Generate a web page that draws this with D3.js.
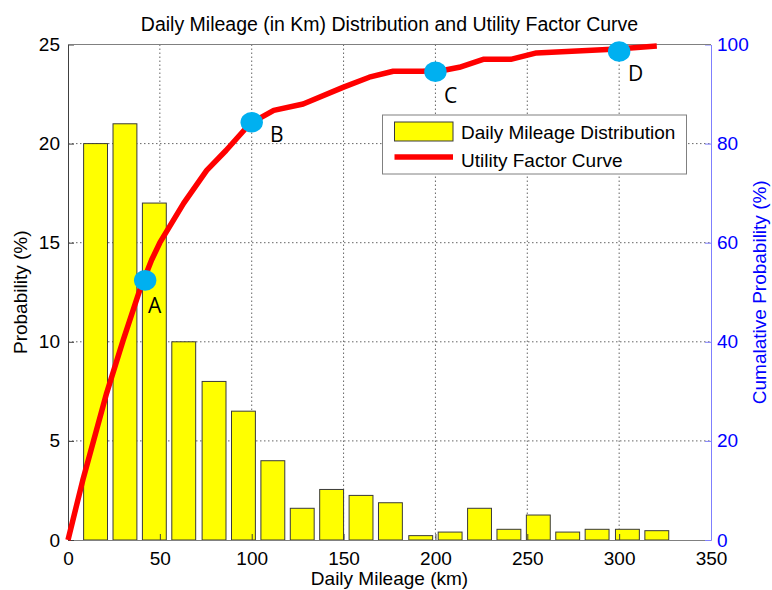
<!DOCTYPE html>
<html>
<head>
<meta charset="utf-8">
<script src="https://cdn.jsdelivr.net/npm/d3@7/dist/d3.min.js"></script>
<style>
  html, body { margin: 0; padding: 0; background: #ffffff; }
  svg { display: block; font-family: "Liberation Sans", Arial, Helvetica, sans-serif; }
</style>
</head>
<body>
<svg id="chart" width="772" height="590"></svg>
<script>
// Daily mileage histogram (bin centres in km, probability in %)
const binCenters = [15, 31, 47, 63, 79.5, 95.5, 111.5, 127.5, 143.5, 159.5, 175.5, 192, 208, 224, 240, 256, 272, 288, 304.5, 320.5];
const probability = [20, 21, 17, 10, 8, 6.5, 4, 1.6, 2.55, 2.25, 1.88, 0.22, 0.4, 1.6, 0.54, 1.26, 0.4, 0.54, 0.54, 0.47];
const binWidth = 13;

// Utility factor curve (cumulative probability, %)
const curveKm = [0, 8, 21, 30, 39, 45.5, 50, 63, 75.5, 86, 99, 112, 128, 150, 164, 177, 193, 206, 213, 226, 241, 255, 299, 320.5];
const curvePct = [0, 12, 29.6, 40.3, 50.4, 56.5, 60, 68, 74.6, 78.6, 84, 86.7, 88, 91.4, 93.4, 94.6, 94.6, 94.9, 95.4, 97, 97, 98.3, 99.1, 99.7];

// Marked points on the curve
const pointNames = ["A", "B", "C", "D"];
const pointKm = [42, 100, 200, 300];
const pointPct = [52.4, 84.3, 94.5, 98.6];
// Where each point's letter sits, in data units (km, %)
const labelKm = [43.5, 110, 204.7, 304.8];
const labelPct = [45.8, 80.3, 88.2, 92.7];

// Axis ticks
const xTicks = [0, 50, 100, 150, 200, 250, 300, 350];
const leftTicks = [0, 5, 10, 15, 20, 25];
const rightTicks = [0, 20, 40, 60, 80, 100];

const titleText = "Daily Mileage (in Km) Distribution and Utility Factor Curve";
const xLabel = "Daily Mileage (km)";
const leftLabel = "Probability (%)";
const rightLabel = "Cumalative Probability (%)";
const legendLabels = ["Daily Mileage Distribution", "Utility Factor Curve"];

const svg = d3.select("#chart");
const box = { left: 68, right: 711, top: 44.5, bottom: 540 };

const x = d3.scaleLinear().domain([0, 350]).range([box.left, box.right]);
const yL = d3.scaleLinear().domain([0, 25]).range([box.bottom, box.top]);
const yR = d3.scaleLinear().domain([0, 100]).range([box.bottom, box.top]);

const FS = 19;
const blue = "#0000ff";

// Dotted grid
const grid = svg.append("g").attr("stroke", "#555").attr("stroke-width", 0.9)
  .attr("stroke-dasharray", "1.5,2.5").attr("fill", "none");
grid.selectAll("line.gx").data(xTicks.slice(1, -1)).join("line")
  .attr("x1", d => x(d)).attr("x2", d => x(d)).attr("y1", box.top).attr("y2", box.bottom);
grid.selectAll("line.gy").data(leftTicks.slice(1, -1)).join("line")
  .attr("x1", box.left).attr("x2", box.right).attr("y1", d => yL(d)).attr("y2", d => yL(d));

// Histogram bars
svg.append("g").selectAll("rect").data(binCenters).join("rect")
  .attr("x", d => x(d - binWidth / 2))
  .attr("width", d => x(d + binWidth / 2) - x(d - binWidth / 2))
  .attr("y", (d, i) => yL(probability[i]))
  .attr("height", (d, i) => yL(0) - yL(probability[i]))
  .attr("fill", "#ffff00").attr("stroke", "#3a3a3a").attr("stroke-width", 1);

// Axes (ticks point inward)
const xAxis = d3.axisBottom(x).tickValues(xTicks).tickSizeInner(-6).tickSizeOuter(0).tickPadding(12);
const gx = svg.append("g").attr("transform", `translate(0,${box.bottom})`).call(xAxis);
gx.select(".domain").attr("stroke", "#808080");
gx.selectAll(".tick line").attr("stroke", "#404040");
gx.selectAll(".tick text").attr("font-size", FS).attr("fill", "#000").attr("font-family", null);

const yAxisL = d3.axisLeft(yL).tickValues(leftTicks).tickSizeInner(-6).tickSizeOuter(0).tickPadding(8);
const gl = svg.append("g").attr("transform", `translate(${box.left},0)`).call(yAxisL);
gl.select(".domain").attr("stroke", "#404040");
gl.selectAll(".tick line").attr("stroke", "#404040");
gl.selectAll(".tick text").attr("font-size", FS).attr("fill", "#000").attr("font-family", null);

const yAxisR = d3.axisRight(yR).tickValues(rightTicks).tickSizeInner(-6).tickSizeOuter(0).tickPadding(6);
const gr = svg.append("g").attr("transform", `translate(${box.right},0)`).call(yAxisR);
gr.select(".domain").attr("stroke", "#7f7fff");
gr.selectAll(".tick line").attr("stroke", "#7f7fff");
gr.selectAll(".tick text").attr("font-size", FS).attr("fill", blue).attr("font-family", null);

// Top border
svg.append("line").attr("x1", box.left).attr("x2", box.right)
  .attr("y1", box.top).attr("y2", box.top).attr("stroke", "#808080");

// Utility factor curve
const line = d3.line().x(d => x(d[0])).y(d => yR(d[1]));
svg.append("path")
  .datum(curveKm.map((k, i) => [k, curvePct[i]]))
  .attr("d", line).attr("fill", "none").attr("stroke", "#ff0000")
  .attr("stroke-width", 5.5).attr("stroke-linejoin", "round");

// Marked points and their letters
svg.append("g").selectAll("ellipse").data(pointKm).join("ellipse")
  .attr("cx", d => x(d)).attr("cy", (d, i) => yR(pointPct[i]))
  .attr("rx", 11.2).attr("ry", 10.3).attr("fill", "#00b0f0");
svg.append("g").selectAll("text").data(pointNames).join("text")
  .attr("x", (d, i) => x(labelKm[i])).attr("y", (d, i) => yR(labelPct[i]))
  .attr("font-family", "'Open Sans', 'Liberation Sans', sans-serif")
  .attr("font-size", 21).attr("fill", "#000").text(d => d);

// Legend
const lg = svg.append("g");
lg.append("rect").attr("x", 382.5).attr("y", 115).attr("width", 304).attr("height", 59)
  .attr("fill", "#fff").attr("stroke", "#808080").attr("stroke-width", 1);
lg.append("rect").attr("x", 394.5).attr("y", 122).attr("width", 58.5).attr("height", 19)
  .attr("fill", "#ffff00").attr("stroke", "#3a3a3a");
lg.append("line").attr("x1", 394.5).attr("x2", 453).attr("y1", 157).attr("y2", 157)
  .attr("stroke", "#ff0000").attr("stroke-width", 5.5);
lg.selectAll("text").data(legendLabels).join("text")
  .attr("x", 461).attr("y", (d, i) => 139 + i * 28)
  .attr("font-size", FS).attr("fill", "#000").text(d => d);

// Titles
svg.append("text").attr("x", (box.left + box.right) / 2).attr("y", 31)
  .attr("text-anchor", "middle").attr("font-size", 19.5).attr("fill", "#000").text(titleText);
svg.append("text").attr("x", (box.left + box.right) / 2).attr("y", 585)
  .attr("text-anchor", "middle").attr("font-size", FS).attr("fill", "#000").text(xLabel);
svg.append("text").attr("transform", `translate(27,${(box.top + box.bottom) / 2}) rotate(-90)`)
  .attr("text-anchor", "middle").attr("font-size", FS).attr("fill", "#000").text(leftLabel);
svg.append("text").attr("transform", `translate(766,${(box.top + box.bottom) / 2}) rotate(-90)`)
  .attr("text-anchor", "middle").attr("font-size", FS).attr("fill", blue).text(rightLabel);
</script>
</body>
</html>
